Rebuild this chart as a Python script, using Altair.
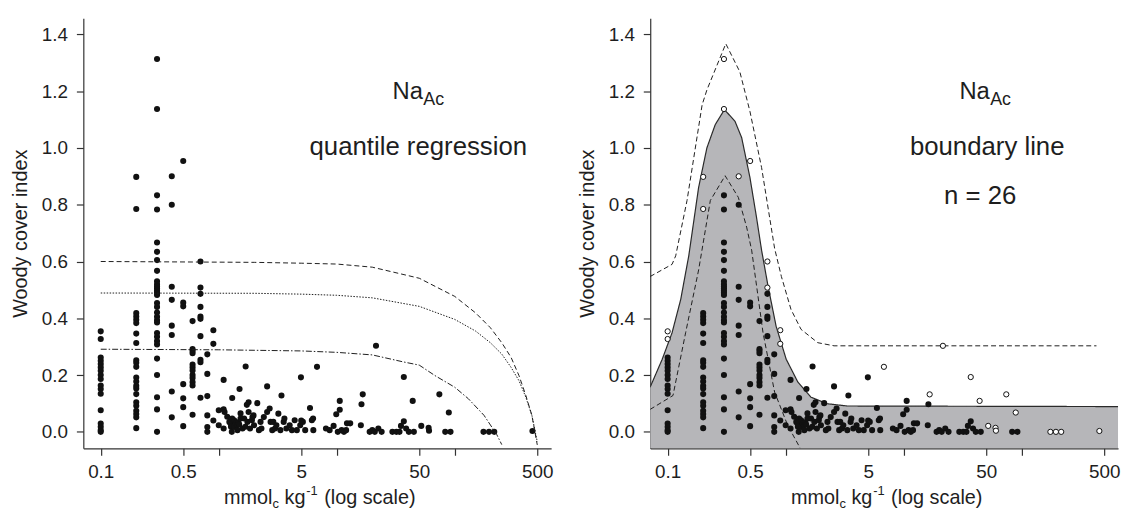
import altair as alt
import pandas as pd

# ---------------- data ----------------
# repeated laboratory values: x column and the y values of non-boundary points
col_x = [0.1, 0.2, 0.3, 0.4, 0.5, 0.6, 0.7, 0.8]
col_y = [
    [0.262, 0.25, 0.239, 0.227, 0.215, 0.2, 0.186, 0.163, 0.151, 0.134, 0.076, 0.029, 0.018, 0.006, 0.0],
    [0.418, 0.406, 0.395, 0.383, 0.346, 0.313, 0.252, 0.243, 0.229, 0.191, 0.177, 0.162, 0.153, 0.133,
     0.104, 0.092, 0.074, 0.063, 0.051, 0.013],
    [0.833, 0.783, 0.667, 0.634, 0.605, 0.567, 0.53, 0.52, 0.512, 0.505, 0.497, 0.49, 0.482, 0.454,
     0.44, 0.42, 0.405, 0.393, 0.385, 0.348, 0.335, 0.32, 0.308, 0.258, 0.2, 0.122, 0.079, 0.0],
    [0.80, 0.511, 0.465, 0.374, 0.341, 0.142, 0.051],
    [0.455, 0.442, 0.168, 0.118, 0.087, 0.02],
    [0.39, 0.292, 0.285, 0.277, 0.237, 0.227, 0.216, 0.2, 0.19, 0.175, 0.163, 0.06],
    [0.486, 0.44, 0.406, 0.398, 0.337, 0.254, 0.245, 0.12],
    [0.273, 0.204, 0.126, 0.058, 0.017, 0.0],
]

# scattered non-boundary points
sc_x = [0.9, 1.0, 1.0, 1.1, 1.1, 1.1, 1.12, 1.18, 1.23, 1.26, 1.27, 1.3, 1.3, 1.29, 1.35, 1.35,
        1.39, 1.4, 1.43, 1.44, 1.47, 1.49, 1.5, 1.53, 1.53, 1.59, 1.64, 1.68, 1.69, 1.73, 1.75,
        1.79, 1.79, 1.84, 1.91, 1.93, 1.97, 1.99, 2.12, 2.19, 2.26, 2.3, 2.41, 2.57, 2.57, 2.7,
        2.75, 2.84, 2.9, 3.0, 3.08, 3.2, 3.33, 3.4, 3.55, 3.6, 3.74, 3.99, 4.17, 4.4, 4.59, 4.9,
        4.97, 5.0, 5.16, 5.4, 5.93, 6.15, 6.33, 6.3, 8.1, 8.7, 9.4, 9.9, 10.2, 10.6, 10.6, 11.0,
        11.5, 12.0, 12.2, 13.0, 16.2, 16.0, 19.0, 20.0, 21.0, 22.5, 24.0, 29.6, 32.0, 34.0, 35.0,
        37.0, 38.7, 40.8, 45.0, 83.0, 92.0]
sc_y = [0.04, 0.076, 0.023, 0.183, 0.079, 0.012, 0.07, 0.053, 0.035, 0.029, 0.018, 0.119, 0.047,
        0.0, 0.041, 0.017, 0.035, 0.029, 0.023, 0.006, 0.032, 0.026, 0.151, 0.047, 0.065, 0.012,
        0.047, 0.018, 0.23, 0.095, 0.035, 0.104, 0.07, 0.012, 0.041, 0.052, 0.058, 0.023, 0.101,
        0.006, 0.035, 0.012, 0.052, 0.16, 0.07, 0.082, 0.035, 0.006, 0.035, 0.012, 0.023, 0.064,
        0.006, 0.128, 0.035, 0.047, 0.012, 0.023, 0.006, 0.041, 0.006, 0.023, 0.192, 0.04, 0.035,
        0.006, 0.084, 0.041, 0.006, 0.047, 0.012, 0.006, 0.021, 0.062, 0.0, 0.078, 0.109, 0.006,
        0.0, 0.006, 0.03, 0.03, 0.097, 0.023, 0.0, 0.006, 0.0, 0.012, 0.0, 0.0, 0.0, 0.0, 0.021,
        0.037, 0.012, 0.0, 0.0, 0.0, 0.0]

# boundary points (n = 26): open circles in the right panel
bd_x = [0.1, 0.1, 0.2, 0.2, 0.3, 0.3, 0.4, 0.5, 0.7, 0.7, 0.9, 0.9, 6.8, 16.6, 21.5, 37.0, 44.0,
        52.0, 60.0, 60.5, 74.0, 89.0, 175.0, 195.0, 216.0, 455.0]
bd_y = [0.354, 0.327, 0.898, 0.785, 1.313, 1.137, 0.9, 0.954, 0.6, 0.508, 0.358, 0.31, 0.229,
        0.132, 0.303, 0.193, 0.109, 0.021, 0.014, 0.004, 0.132, 0.068, 0.0, 0.0, 0.0, 0.003]

# quantile regression curves (left panel)
q_x = [0.1, 2, 5, 10, 20, 50, 100, 150, 200, 250, 300, 350, 400, 450, 500]
q_upper = [0.600, 0.597, 0.594, 0.591, 0.580, 0.541, 0.477, 0.419, 0.367, 0.314, 0.262, 0.198,
           0.128, 0.058, -0.046]
q_middle = [0.489, 0.488, 0.485, 0.481, 0.472, 0.442, 0.396, 0.355, 0.314, 0.274, 0.227, 0.18,
            0.122, 0.058, -0.035]
ql_x = [0.1, 1, 5, 10, 20, 36, 50, 68, 100, 130, 177, 227, 250]
q_lower = [0.291, 0.289, 0.285, 0.28, 0.271, 0.247, 0.235, 0.198, 0.157, 0.117, 0.058, -0.01, -0.045]

# boundary line and its band (right panel)
bl_x = [0.071, 0.09, 0.109, 0.129, 0.151, 0.183, 0.215, 0.253, 0.303, 0.372, 0.424, 0.498, 0.566,
        0.625, 0.71, 0.83, 1.01, 1.27, 1.64, 2.25, 3.33, 660]
bl_y = [0.157, 0.256, 0.349, 0.466, 0.62, 0.861, 1.0, 1.082, 1.135, 1.094, 1.036, 0.896, 0.756,
        0.64, 0.512, 0.372, 0.256, 0.175, 0.122, 0.099, 0.091, 0.089]
up_x = [0.071, 0.109, 0.117, 0.146, 0.196, 0.215, 0.311, 0.409, 0.498, 0.625, 0.806, 0.92, 1.11,
        1.35, 1.87, 2.57, 430]
up_y = [0.547, 0.59, 0.62, 0.815, 1.152, 1.204, 1.367, 1.268, 1.129, 0.931, 0.646, 0.547, 0.431,
        0.361, 0.314, 0.303, 0.303]
lo_x = [0.071, 0.111, 0.142, 0.183, 0.23, 0.307, 0.397, 0.467, 0.515, 0.643, 0.806, 1.04, 1.33]
lo_y = [0.079, 0.128, 0.349, 0.57, 0.815, 0.902, 0.826, 0.721, 0.64, 0.349, 0.14, 0.023, -0.058]

x_ticks = [0.1, 0.5, 1, 5, 10, 50, 100, 500]
y_ticks = [0.0, 0.2, 0.4, 0.6, 0.8, 1.0, 1.2, 1.4]
Y_MIN, Y_MAX = -0.058, 1.457

# ---------------- tables ----------------
rows = []
for cx, ys in zip(col_x, col_y):
    for v in ys:
        rows.append({"x": cx, "y": v})
for a, b in zip(sc_x, sc_y):
    rows.append({"x": a, "y": b})
pts = pd.DataFrame(rows)
bnd = pd.DataFrame({"x": bd_x, "y": bd_y})
allpts = pd.concat([pts, bnd], ignore_index=True)

W, H = 472, 434
FONT = "Liberation Sans"
INK = "#1e1e1e"

xsc = alt.Scale(type="log", domain=[0.0712, 655], nice=False)
ysc = alt.Scale(domain=[Y_MIN, Y_MAX], nice=False, zero=False)
xax = alt.Axis(values=x_ticks, format="~g", title="",
               labelExpr="(datum.value == 1 || datum.value == 10 || datum.value == 100) ? '' : datum.label",
               labelPadding=7)
yax = alt.Axis(values=y_ticks, format=".1f", title="Woody cover index", labelPadding=9,
               titlePadding=11)
X = alt.X("x:Q", scale=xsc, axis=xax)
Y = alt.Y("y:Q", scale=ysc, axis=yax)


def line(xs, ys, dash, color=INK, width=1.0):
    d = pd.DataFrame({"x": xs, "y": ys})
    return alt.Chart(d).mark_line(color=color, strokeWidth=width, strokeDash=dash, clip=True).encode(
        x=X, y=Y, order="x:Q")


def txt(s, px, py, size, align="left"):
    return alt.Chart(pd.DataFrame({"t": [s]})).mark_text(
        font=FONT, fontSize=size, color=INK, align=align, baseline="alphabetic").encode(
        x=alt.value(px), y=alt.value(py), text="t:N")


def xtitle():
    y0 = 490
    return [
        txt("mmol", 142, y0, 20),
        txt("c", 191, y0 + 4, 13),
        txt("kg", 203, y0, 20),
        txt("-1", 225, y0 - 9, 13),
        txt("(log scale)", 243, y0, 20),
    ]


def label_block(lines):
    out = [txt("Na", 312, 82, 24), txt("Ac", 343, 88, 18)]
    for s, cx, by in lines:
        out.append(txt(s, cx, by, 26, align="center"))
    return out


# ---------------- left panel ----------------
left_pts = alt.Chart(allpts).mark_circle(size=38, color="#111111", opacity=1).encode(x=X, y=Y)
left = alt.layer(
    left_pts,
    line(q_x, q_upper, [5, 3]),
    line(q_x, q_middle, [1.5, 1.5]),
    line(ql_x, q_lower, [6, 2, 1.5, 2]),
    *label_block([("quantile regression", 338, 138)]),
    *xtitle(),
).properties(width=W, height=H)

# ---------------- right panel ----------------
area = alt.Chart(pd.DataFrame({"x": bl_x, "y": bl_y})).mark_area(
    color="#b6b6b9", opacity=1, clip=True, line=False).encode(
    x=X, y=Y, y2=alt.datum(Y_MIN))
bline = line(bl_x, bl_y, [1, 0], color="#2a2a2a", width=1.2)
right_fill = alt.Chart(pts).mark_circle(size=38, color="#111111", opacity=1).encode(x=X, y=Y)
right_open = alt.Chart(bnd).mark_point(shape="circle", filled=True, fill="white", stroke="#111111",
                                       strokeWidth=1, size=28, opacity=1).encode(x=X, y=Y)
right = alt.layer(
    area,
    bline,
    line(up_x, up_y, [5, 3]),
    line(lo_x, lo_y, [5, 3]),
    right_fill,
    right_open,
    *label_block([("boundary line", 340, 138), ("n = 26", 333, 187)]),
    *xtitle(),
).properties(width=W, height=H)

chart = alt.hconcat(left, right, spacing=24).properties(
    padding={"left": 2, "top": 8, "right": 2, "bottom": 0},
    background="white",
).configure_view(stroke=None).configure_axis(
    grid=False, domainColor="#333333", tickColor="#333333", tickSize=7, domainWidth=1.2,
    tickWidth=1.2, labelFont=FONT, labelFontSize=19, labelColor=INK, titleFont=FONT,
    titleFontSize=20, titleFontWeight="normal", titleColor=INK,
)

chart.save("out.html", embed_options={"renderer": "svg", "actions": False})
